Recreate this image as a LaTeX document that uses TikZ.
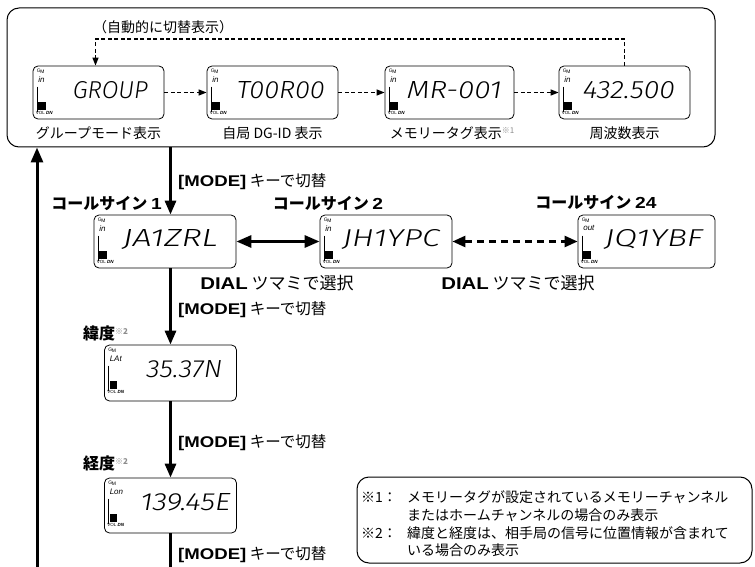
\documentclass[tikz,border=0pt]{standalone}
\usepackage{fontspec}
\setmainfont{Noto Sans CJK JP}
\IfFontExistsTF{Fira Sans Light Italic}
  {\newfontfamily\lcdfont{Fira Sans Light Italic}}
  {\newfontfamily\lcdfont[FakeSlant=0.15]{Liberation Sans}}
\IfFontExistsTF{Noto Sans CJK JP Black}
  {\newfontfamily\heavyjp{Noto Sans CJK JP Black}}
  {\newfontfamily\heavyjp{Noto Sans CJK JP Bold}}
\newfontfamily\latinsans{Liberation Sans}
\usetikzlibrary{arrows.meta,calc}
\definecolor{notegray}{gray}{0.55}

\tikzset{
  lcdframe/.style={draw, line width=0.8pt, rounded corners=5pt, inner sep=0pt},
  gmicon/.style={anchor=north west, inner sep=0pt, font=\latinsans\fontsize{5}{5}\selectfont},
  indtxt/.style={anchor=north west, inner sep=0pt, font=\latinsans\itshape\fontsize{8}{8}\selectfont},
  voltxt/.style={anchor=north west, inner sep=0pt, font=\latinsans\fontsize{4.5}{4.5}\selectfont},
  bigtxt/.style={anchor=west, inner sep=0pt},
  lbl/.style={inner sep=0pt, font=\fontsize{14}{16}\selectfont},
  modelbl/.style={anchor=west, inner sep=0pt, font=\fontsize{15.5}{18}\selectfont},
  diallbl/.style={inner sep=0pt, font=\fontsize{17}{19}\selectfont},
  cslbl/.style={inner sep=0pt, font=\heavyjp\fontsize{16}{18}\selectfont},
  notetxt/.style={anchor=west, inner sep=0pt, font=\fontsize{14}{16}\selectfont},
  bigarrow/.style={line width=3pt, -{Triangle[width=11pt,length=14pt]}},
  plainbar/.style={line width=3pt},
  dblarrow/.style={line width=3pt, {Triangle[width=12pt,length=15pt]}-{Triangle[width=12pt,length=15pt]}},
  dbldash/.style={line width=2.5pt, dash pattern=on 7pt off 5pt, {Triangle[width=11pt,length=13pt]}-{Triangle[width=11pt,length=13pt]}},
  smalldash/.style={line width=1.3pt, dash pattern=on 4pt off 2.5pt, -{Triangle[width=6pt,length=8pt]}},
}

\newcommand\notemark[1]{\textcolor{notegray}{\fontsize{8}{8}\selectfont\raisebox{4.5pt}{#1}}}
\newcommand\lb[1]{\scalebox{1.2}[1]{\latinsans\bfseries #1}}

\newcommand\lcd[8]{%
  \node[lcdframe, minimum width=#3, minimum height=#4] (#1) at #2 {};
  \node[gmicon] at ($(#1.north west)+(4,3.5)$) {\raisebox{1.2pt}{G}\kern-0.3pt M};
  \node[indtxt] at ($(#1.north west)+(5.5,11)$) {#6};
  \draw[line width=0.7pt] ($(#1.north west)+(4.5,21)$) -- ($(#1.north west)+(4.5,46)$);
  \fill ($(#1.north west)+(5.5,36)$) rectangle ($(#1.north west)+(13,44)$);
  \node[voltxt] at ($(#1.north west)+(3,45.5)$) {VOL \textbf{\textit{DN}}};
  \node[bigtxt] at ($(#1.north west)+(#7,25)$) {\resizebox{#8pt}{17pt}{\lcdfont #5}};
}

\begin{document}
\begin{tikzpicture}[x=1pt,y=-1pt]
\useasboundingbox (0,0) rectangle (755,567);

% outer top frame
\node[draw, line width=1pt, rounded corners=12pt, minimum width=708pt, minimum height=139pt, inner sep=0pt] (outer) at (361,77.5) {};
\node[lbl] (auto) at (163,27) {（自動的に切替表示）};

% top row
\lcd{grp}{(98.5,92.5)}{131}{53}{GROUP}{in}{40}{75}
\lcd{dgid}{(272.5,92.5)}{131}{53}{T00R00}{in}{30}{88}
\lcd{mr}{(449.5,92.5)}{129}{53}{MR-001}{in}{22}{95}
\lcd{frq}{(624.5,92.5)}{131}{53}{432.500}{in}{24}{92}

\node[lbl] (grpL) at (98.5,133) {グループモード表示};
\node[lbl] (dgidL) at (272.5,133) {自局 DG-ID 表示};
\node[lbl] (mrL) at (452,133) {メモリータグ表示\notemark{※1}};
\node[lbl] (frqL) at (624.5,133) {周波数表示};

\draw[smalldash] (grp.east) -- (dgid.west);
\draw[smalldash] (dgid.east) -- (mr.west);
\draw[smalldash] (mr.east) -- (frq.west);
\coordinate (loopy) at (400,39);
\draw[smalldash] (frq.north) |- (loopy) -| ($(grp.north)+(-3,0)$);

% call signs
\lcd{cs1}{(165,241.5)}{142}{53}{JA1ZRL}{in}{29}{95}
\lcd{cs2}{(386,241.5)}{132}{53}{JH1YPC}{in}{23}{97}
\lcd{cs24}{(646.5,241.5)}{137}{53}{JQ1YBF}{out}{27}{98}

\node[cslbl, anchor=east] (cs1L) at (162,203) {コールサイン \lb{1}};
\node[cslbl] (cs2L) at (328,203) {コールサイン \lb{2}};
\node[cslbl] (cs24L) at (596,202) {コールサイン \lb{24}};

\draw[dblarrow] (cs1.east) -- (cs2.west);
\draw[dbldash] (cs2.east) -- (cs24.west);

\node[diallbl] (dial1) at (277,283) {\lb{DIAL} ツマミで選択};
\node[diallbl] (dial2) at (518,283) {\lb{DIAL} ツマミで選択};

% lat / lon
\lcd{lat}{(170.5,373)}{132}{56}{35.37N}{LAt}{42}{76}
\lcd{lon}{(170.5,505.5)}{132}{55}{139.45E}{Lon}{36}{90}

\node[cslbl, anchor=west] (latL) at (83,333) {緯度\notemark{※2}};
\node[cslbl, anchor=west] (lonL) at (83,463) {経度\notemark{※2}};

\coordinate (botM) at (170.5,567);
\coordinate (botL) at (37,567);

\draw[bigarrow] (outer.south -| lat) -- (cs1.north -| lat);
\draw[bigarrow] (cs1.south -| lat) -- (lat.north);
\draw[bigarrow] (lat.south) -- (lon.north);
\draw[plainbar] (lon.south) -- (botM);
\draw[line width=3pt, -{Triangle[width=12pt,length=15pt]}] (botL) -- (outer.south -| botL);

\node[modelbl] (m1) at (178,182) {\lb{[MODE]} キーで切替};
\node[modelbl] (m2) at (178,310) {\lb{[MODE]} キーで切替};
\node[modelbl] (m3) at (178,443) {\lb{[MODE]} キーで切替};
\node[modelbl] (m4) at (178,555) {\lb{[MODE]} キーで切替};

% note box
\node[draw, line width=1pt, rounded corners=12pt, minimum width=395pt, minimum height=86pt, inner sep=0pt] (note) at (554.5,520) {};
\node[notetxt] (n1a) at (361,497) {※1：};
\node[notetxt] (n1b) at (407,497) {メモリータグが設定されているメモリーチャンネル};
\node[notetxt] (n1c) at (407,515) {またはホームチャンネルの場合のみ表示};
\node[notetxt] (n2a) at (361,533) {※2：};
\node[notetxt] (n2b) at (407,533) {緯度と経度は、相手局の信号に位置情報が含まれて};
\node[notetxt] (n2c) at (407,550) {いる場合のみ表示};
\end{tikzpicture}
\end{document}
